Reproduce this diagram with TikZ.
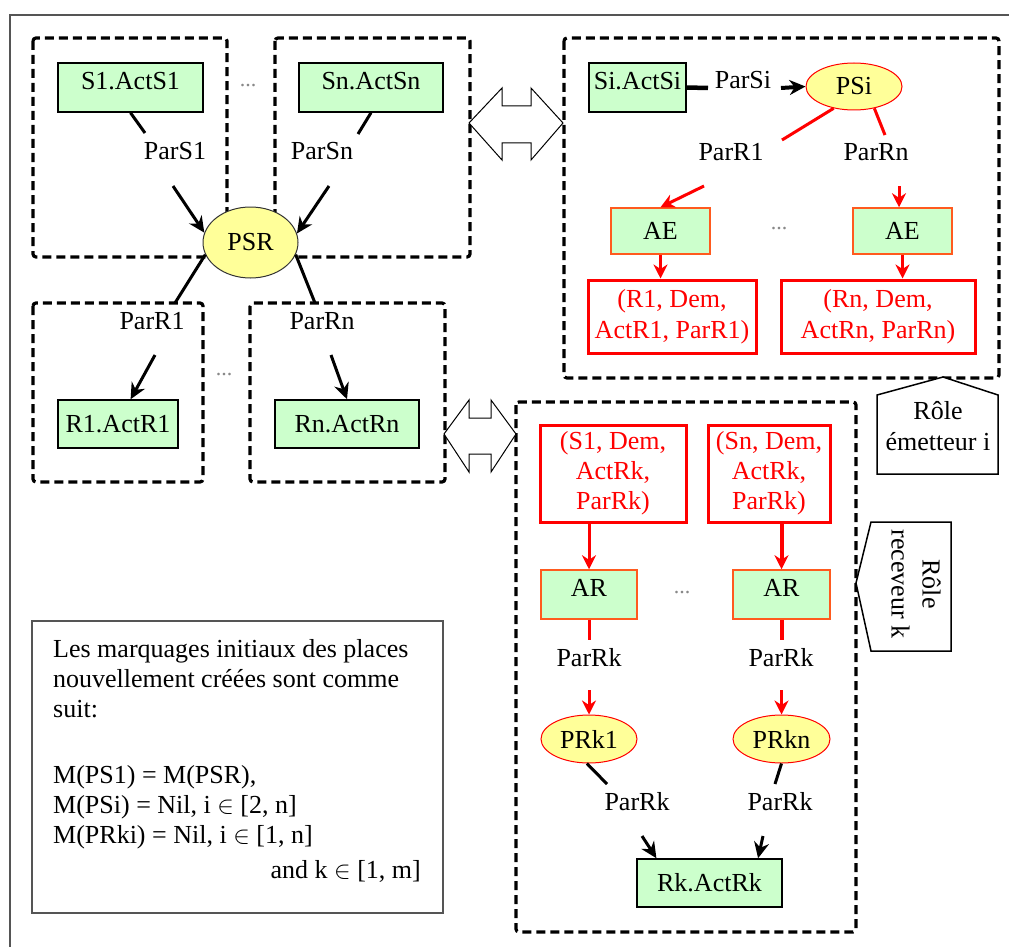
\documentclass[tikz,border=0pt]{standalone}
\usepackage{fontspec}
\setmainfont{Liberation Serif}
\usetikzlibrary{shapes.geometric,arrows.meta,calc}
\definecolor{boxgreen}{HTML}{CCFFCC}
\definecolor{placeyellow}{HTML}{FFFF99}
\definecolor{myred}{HTML}{FF0000}
\definecolor{myorange}{HTML}{FF5A1E}
\definecolor{framegray}{HTML}{555555}
\definecolor{dotgray}{HTML}{888888}
\begin{document}
\begin{tikzpicture}[x=1pt,y=-1pt,
  every node/.style={font=\fontsize{26}{31}\selectfont, inner sep=0pt},
  trans/.style={draw=black, line width=1.5pt, fill=boxgreen, rectangle},
  rtrans/.style={draw=myorange, line width=1.5pt, fill=boxgreen, rectangle},
  uptext/.style={text depth=14pt},
  place/.style={ellipse, fill=placeyellow},
  tuple/.style={draw=myred, line width=3pt, fill=white, text=myred, align=center},
  group/.style={draw=black, line width=3.2pt, dash pattern=on 9pt off 5pt, rounded corners=3pt},
  dots/.style={text=dotgray, font=\fontsize{22}{22}\selectfont},
  arc/.style={line width=3pt, draw=black},
  barr/.style={arc, -{Stealth[length=16pt,width=15pt]}},
  rarc/.style={line width=3pt, draw=myred},
  rarr/.style={rarc, -{Stealth[length=14pt,width=14pt]}},
  dbl/.style={draw=black, line width=1pt, fill=white},
  rolebox/.style={draw=black, line width=1.5pt, fill=white}
]
\clip (0,0) rectangle (1009,947);
\fill[white] (0,0) rectangle (1009,947);
% outer frame
\draw[framegray, line width=2.5pt] (1009,15) -- (10,15) -- (10,947);

% dashed groups
\draw[group] (33,38) rectangle (227,257);
\draw[group] (275,38) rectangle (470,257);
\draw[group] (33,303) rectangle (203,482);
\draw[group] (250,303) rectangle (445,482);
\draw[group] (564,38) rectangle (999,378);
\draw[group] (516,402) rectangle (856,932);

% double arrows
\draw[dbl] (469,123) -- (502,88) -- (502,106) -- (531,106) -- (531,88) -- (563,123)
  -- (531,160) -- (531,143) -- (502,143) -- (502,160) -- cycle;
\draw[dbl] (444,434) -- (469,400) -- (469,418) -- (491,418) -- (491,400) -- (516,434)
  -- (491,472) -- (491,454) -- (469,454) -- (469,472) -- cycle;

% role boxes
\draw[rolebox] (877,395) -- (943,377) -- (998,395) -- (998,474) -- (877,474) -- cycle;
\node[align=center] (roleE) at (938,426) {Rôle\\émetteur i};
\draw[rolebox] (871,522) -- (951,522) -- (951,651) -- (871,651) -- (856,583) -- cycle;
\node[align=center, rotate=-90] (roleR) at (916,584) {Rôle\\receveur k};

% note box
\node[draw=framegray, line width=2pt, minimum width=411pt, minimum height=292pt] (note) at (237.5,767) {};
\node[anchor=base west] (n1) at (53,657) {Les marquages initiaux des places};
\node[anchor=base west] (n2) at (53,687) {nouvellement créées sont comme};
\node[anchor=base west] (n3) at (53,717) {suit:};
\node[anchor=base west] (n4) at (53,783) {M(PS1) = M(PSR),};
\node[anchor=base west] (n5) at (53,813) {M(PSi) = Nil, i $\in$ [2, n]};
\node[anchor=base west] (n6) at (53,843) {M(PRki) = Nil, i $\in$ [1, n]};
\node[anchor=base east] (n7) at (421,878) {and k $\in$ [1, m]};

% ---------- left part ----------
\node[trans, uptext, minimum width=145pt, minimum height=49pt] (s1) at (130.5,87.5) {S1.ActS1};
\node[trans, uptext, minimum width=144pt, minimum height=49pt] (sn) at (371,87.5) {Sn.ActSn};
\node[dots] (d1) at (248,86) {...};
\node (pars1) at (175,151) {ParS1};
\node (parsn) at (322,151) {ParSn};
\node[place, draw=black!80, line width=1pt, minimum width=95pt, minimum height=71pt] (psr) at (250.5,242.5) {PSR};
\node (parr1l) at (152,321) {ParR1};
\node (parrnl) at (322,321) {ParRn};
\node[dots] (d2) at (224,375) {...};
\node[trans, minimum width=120pt, minimum height=48pt] (r1) at (118,424) {R1.ActR1};
\node[trans, minimum width=144pt, minimum height=48pt] (rn) at (347,424) {Rn.ActRn};

\coordinate (cs1) at (145,133);
\coordinate (csn) at (358,134);
\coordinate (ca1) at (173,186);
\coordinate (can) at (329,186);
\coordinate (cr1) at (175,303);
\coordinate (crn) at (315,303);
\coordinate (cb1) at (155,355);
\coordinate (cbn) at (331,355);
\draw[arc] (s1.south) -- (cs1);
\draw[arc] (sn.south) -- (csn);
\draw[barr] (ca1) -- (psr.168);
\draw[barr] (can) -- (psr.11);
\draw[arc] (psr.195) -- (cr1);
\draw[arc] (psr.-15) -- (crn);
\draw[barr] (cb1) -- (r1.63);
\draw[barr] (cbn) -- (rn.north);

% ---------- top right ----------
\node[trans, uptext, minimum width=97pt, minimum height=49pt] (si) at (637.5,87.5) {Si.ActSi};
\node (parsi) at (743,80) {ParSi};
\node[place, draw=myred, line width=1pt, minimum width=96pt, minimum height=47pt] (psi) at (854,86.5) {PSi};
\node (parr1r) at (731,152) {ParR1};
\node (parrnr) at (876,152) {ParRn};
\node[rtrans, minimum width=99pt, minimum height=46pt] (ae1) at (660.5,231) {AE};
\node[rtrans, minimum width=99pt, minimum height=46pt] (ae2) at (902.5,231) {AE};
\node[dots] (d3) at (779,229) {...};
\node[tuple, minimum width=168pt, minimum height=73pt] (t1) at (672,316.5) {(R1, Dem,\\ActR1, ParR1)};
\node[tuple, minimum width=194pt, minimum height=73pt] (t2) at (878,316.5) {(Rn, Dem,\\ActRn, ParRn)};

\coordinate (csi) at (708,88);
\coordinate (cpsi) at (781,88);
\coordinate (cq1) at (782,140);
\coordinate (cqn) at (885,135);
\coordinate (ce1) at (704,186);
\coordinate (cen) at (899,186);
\draw[arc, line width=4.5pt] (si.east) -- (csi);
\draw[barr, line width=4pt] (cpsi) -- (psi.west);
\draw[rarc] (psi.227) -- (cq1);
\draw[rarc] (psi.-47) -- (cqn);
\draw[rarr] (ce1) -- (ae1.north);
\draw[rarr] (cen) -- (cen |- ae2.north);
\draw[rarr] (ae1.south) -- (ae1.south |- t1.north);
\draw[rarr] (ae2.south) -- (ae2.south |- t2.north);

% ---------- bottom right ----------
\node[tuple, minimum width=146pt, minimum height=97pt, font=\fontsize{26}{30}\selectfont] (ts1) at (613,473.5) {(S1, Dem,\\ActRk,\\ParRk)};
\node[tuple, minimum width=122pt, minimum height=97pt, font=\fontsize{26}{30}\selectfont] (tsn) at (769,473.5) {(Sn, Dem,\\ActRk,\\ParRk)};
\node[rtrans, uptext, minimum width=96pt, minimum height=49pt] (ar1) at (589,594.5) {AR};
\node[rtrans, uptext, minimum width=97pt, minimum height=49pt] (ar2) at (781.5,594.5) {AR};
\node[dots] (d4) at (682,593) {...};
\node (parrk1) at (589,658) {ParRk};
\node (parrk2) at (781,658) {ParRk};
\node[place, draw=myred, line width=1pt, minimum width=96pt, minimum height=48pt] (prk1) at (589,739) {PRk1};
\node[place, draw=myred, line width=1pt, minimum width=97pt, minimum height=48pt] (prkn) at (781.5,739) {PRkn};
\node (parrk3) at (637,802) {ParRk};
\node (parrk4) at (780,802) {ParRk};
\node[trans, minimum width=145pt, minimum height=48pt] (rk) at (709.5,883) {Rk.ActRk};

\coordinate (cu1) at (589,640);
\coordinate (cun) at (781.5,640);
\coordinate (cv1) at (589,690);
\coordinate (cvn) at (781.5,690);
\coordinate (cw1) at (607,784);
\coordinate (cwn) at (775,784);
\coordinate (cx1) at (642,836);
\coordinate (cxn) at (763,836);
\draw[rarr] (ar1.north |- ts1.south) -- (ar1.north);
\draw[rarr, line width=4pt] (ar2.north |- tsn.south) -- (ar2.north);
\draw[rarc] (ar1.south) -- (cu1);
\draw[rarc, line width=4pt] (ar2.south) -- (cun);
\draw[rarr] (cv1) -- (prk1.north);
\draw[rarr] (cvn) -- (prkn.north);
\draw[arc] (prk1.265) -- (cw1);
\draw[arc] (prkn.south) -- (cwn);
\draw[barr] (cx1) -- (rk.155);
\draw[barr] (cxn) -- (rk.27);
\end{tikzpicture}
\end{document}
